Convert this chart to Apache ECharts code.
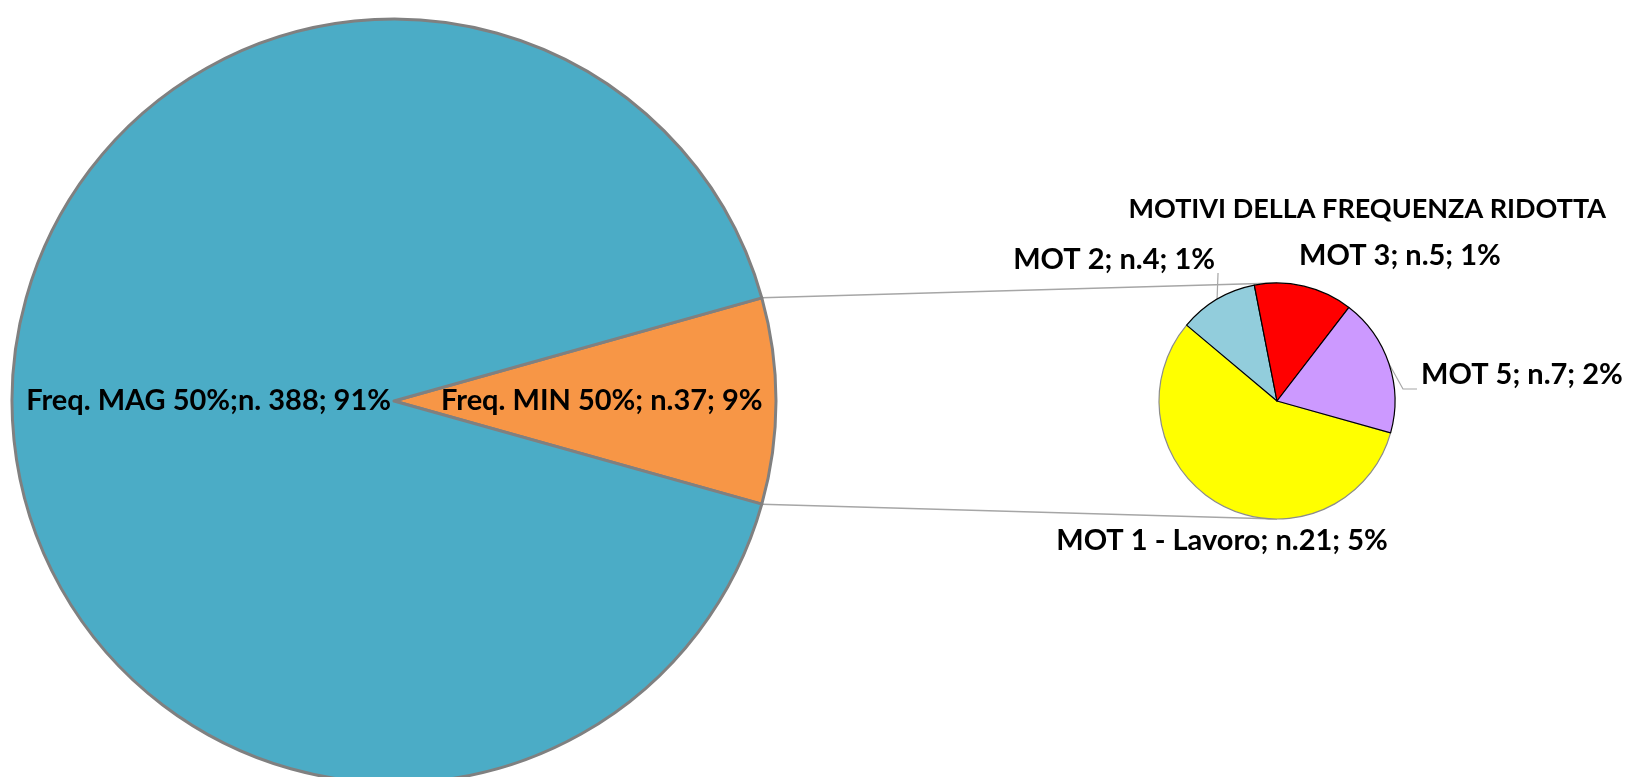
<!DOCTYPE html>
<html>
<head>
<meta charset="utf-8">
<script src="https://cdn.jsdelivr.net/npm/echarts@6/dist/echarts.min.js"></script>
<style>
  html, body { margin: 0; padding: 0; background: #fff; }
  #main { width: 1626px; height: 777px; }
</style>
</head>
<body>
<div id="main"></div>
<script>
// main pie
var mainNames = ['Freq. MIN 50%; n.37; 9%', 'Freq. MAG 50%;n. 388; 91%'];
var mainValues = [37, 388];
var mainColors = ['#F79646', '#4BACC6'];

// secondary pie: motivi della frequenza ridotta
var motNames = ['MOT 1 - Lavoro; n.21; 5%', 'MOT 2; n.4; 1%', 'MOT 3; n.5; 1%', 'MOT 5; n.7; 2%'];
var motValues = [21, 4, 5, 7];
var motColors = ['#FFFF00', '#92CDDC', '#FF0000', '#CC99FF'];

var titleText = 'MOTIVI DELLA FREQUENZA RIDOTTA';

var FONT = 'Lato';
var mainC = [394, 401], mainR = 382;
var motC = [1277, 401], motR = 118;
var motStart = 140 + 360 * motValues[0] / sum(motValues);
var mainStart = 180 * mainValues[0] / sum(mainValues);

function sum(a) { return a.reduce(function (s, v) { return s + v; }, 0); }
function rad(d) { return d * Math.PI / 180; }
function arcPoint(c, r, deg) { return [c[0] + r * Math.cos(rad(deg)), c[1] - r * Math.sin(rad(deg))]; }
function midAngle(values, start, i) {
  var t = sum(values), cum = 0;
  for (var k = 0; k < i; k++) cum += values[k];
  return start - 360 * (cum + values[i] / 2) / t;
}

// label placement relative to the secondary pie centre
var motLabelPos = [
  { dx: -55, dy: 140, align: 'center' },
  { dx: -62, dy: -141, align: 'right' },
  { dx: 22, dy: -145, align: 'left' },
  { dx: 144, dy: -26, align: 'left' }
];

var labelStyle = { color: '#000', fontFamily: FONT, fontWeight: 'bold', fontSize: 29, overflow: 'none' };

var chart = echarts.init(document.getElementById('main'));

var topA = arcPoint(mainC, mainR, mainStart);
var botA = arcPoint(mainC, mainR, -mainStart);

chart.setOption({
  backgroundColor: '#fff',
  animation: false,
  title: {
    text: titleText, right: 15, top: 191,
    textStyle: { color: '#000', fontFamily: FONT, fontWeight: 'bold', fontSize: 27 }
  },
  graphic: [
    { type: 'line', z: 0, shape: { x1: topA[0], y1: topA[1], x2: motC[0], y2: motC[1] - motR },
      style: { stroke: '#a6a6a6', lineWidth: 1.5 } },
    { type: 'line', z: 0, shape: { x1: botA[0], y1: botA[1], x2: motC[0], y2: motC[1] + motR },
      style: { stroke: '#a6a6a6', lineWidth: 1.5 } }
  ],
  series: [
    {
      type: 'pie',
      center: mainC, radius: mainR,
      startAngle: mainStart,
      clockwise: true,
      silent: true,
      data: mainValues.map(function (v, i) {
        return { name: mainNames[i], value: v, itemStyle: { color: mainColors[i] } };
      }),
      itemStyle: { borderColor: '#808080', borderWidth: 3 },
      label: Object.assign({ show: true, position: 'inside', formatter: '{b}' }, labelStyle),
      labelLine: { show: false },
      labelLayout: function (p) {
        if (p.dataIndex === 0) return { x: mainC[0] + 47, y: mainC[1], align: 'left', verticalAlign: 'middle' };
        return { x: mainC[0] - 3, y: mainC[1], align: 'right', verticalAlign: 'middle' };
      }
    },
    {
      type: 'pie',
      center: motC, radius: motR,
      startAngle: motStart,
      clockwise: true,
      silent: true,
      data: motValues.map(function (v, i) {
        return {
          name: motNames[i], value: v,
          itemStyle: { color: motColors[i], borderColor: i === 0 ? '#8c8c8c' : '#000' },
          labelLine: { show: i === 1 || i === 3 }
        };
      }),
      itemStyle: { borderWidth: 1.2 },
      label: Object.assign({ show: true, position: 'outside', formatter: '{b}', edgeDistance: 0 }, labelStyle),
      labelLine: { lineStyle: { color: '#a6a6a6', width: 1.2 } },
      labelLayout: function (p) {
        var lp = motLabelPos[p.dataIndex];
        var x = motC[0] + lp.dx, y = motC[1] + lp.dy;
        var a = arcPoint(motC, motR, midAngle(motValues, motStart, p.dataIndex));
        var pts;
        if (p.dataIndex === 1) pts = [a, [a[0] + 1, y + 13]];
        else if (p.dataIndex === 3) pts = [a, [a[0] + 14, y + 14], [x - 4, y + 14]];
        else pts = [a, a];
        return { x: x, y: y, width: 400, align: lp.align, verticalAlign: 'middle', labelLinePoints: pts };
      }
    }
  ]
});
</script>
</body>
</html>
